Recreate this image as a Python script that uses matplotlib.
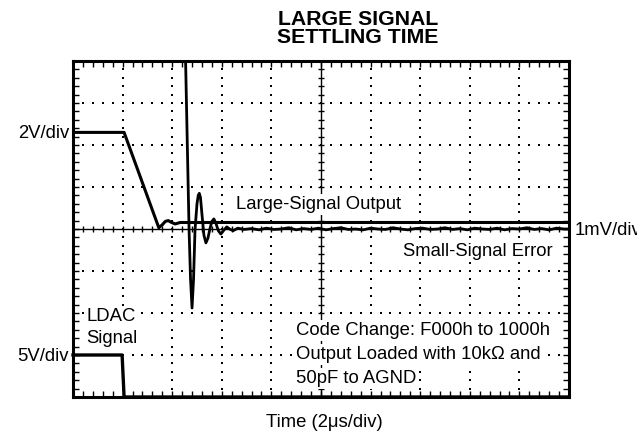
import numpy as np
import matplotlib.pyplot as plt

plt.rcParams['font.family'] = ['Liberation Sans', 'DejaVu Sans']

# Traces in screen divisions (x: 0..10 div, y: 0..8 div, centre line at y=4)
large_x = [0.0, 1.03, 1.73, 1.80, 1.86, 1.92, 1.98, 2.06, 2.16, 10.0]
large_y = [6.30, 6.30, 4.03, 4.10, 4.18, 4.20, 4.16, 4.12, 4.155, 4.155]

small_x = [2.20, 2.27, 2.34, 2.37, 2.40, 2.43, 2.46, 2.50, 2.525, 2.546, 2.57, 2.60,
           2.64, 2.68, 2.72, 2.76, 2.80, 2.84, 2.88, 2.93, 2.98, 3.04, 3.10, 3.17,
           3.23, 3.32, 3.45, 3.60, 3.75, 3.90, 4.05, 4.20, 4.35, 4.50, 4.65, 4.80,
           4.95, 5.10, 5.25, 5.40, 5.55, 5.70, 5.85, 6.00, 6.15, 6.30, 6.45, 6.60,
           6.75, 6.90, 7.05, 7.20, 7.35, 7.50, 7.65, 7.80, 7.95, 8.10, 8.25, 8.40,
           8.55, 8.70, 8.85, 9.00, 9.15, 9.30, 9.45, 9.60, 9.75, 9.90, 10.0]
small_y = [9.50, 8.00, 3.98, 2.80, 2.12, 2.80, 3.98, 4.60, 4.80, 4.85, 4.75, 4.35,
           3.85, 3.67, 3.78, 4.00, 4.18, 4.24, 4.14, 3.96, 3.88, 3.97, 4.05, 3.99,
           3.96, 4.02, 3.99, 4.01, 3.98, 4.02, 3.99, 4.00, 4.03, 3.98, 4.01, 3.99,
           4.02, 3.98, 4.01, 4.03, 3.99, 4.00, 3.98, 4.02, 4.00, 3.99, 4.03, 4.00,
           3.98, 4.01, 4.02, 3.99, 4.00, 4.03, 3.99, 4.01, 3.98, 4.02, 4.00, 3.99,
           4.02, 3.98, 4.01, 4.00, 4.03, 3.99, 4.01, 3.98, 4.02, 4.00, 4.00]

ldac_x = [0.0, 0.99, 1.03, 10.0]
ldac_y = [1.00, 1.00, 0.0, 0.0]

W, H = 637, 436
fig = plt.figure(figsize=(W / 100, H / 100), dpi=100)
ax = fig.add_axes([73 / W, 1 - 397 / H, 496 / W, 336 / H])
ax.set_xlim(0, 10)
ax.set_ylim(0, 8)

# graticule: dotted grid, centre crosshair with minor ticks
minor_x = np.arange(0, 10.01, 0.2)
minor_y = np.arange(0, 8.01, 0.2)
for gx in [1, 2, 3, 4, 6, 7, 8, 9]:
    ax.plot(np.full(len(minor_y), gx), minor_y, ls='none', marker='s', ms=1.5,
            color='k', mew=0)
for gy in [1, 2, 3, 5, 6, 7]:
    ax.plot(minor_x, np.full(len(minor_x), gy), ls='none', marker='s', ms=1.5,
            color='k', mew=0)
ax.axvline(5, color='k', lw=1)
ax.axhline(4, color='k', lw=1)
ax.vlines(minor_x, 4 - 0.07, 4 + 0.07, color='k', lw=1)
ax.hlines(minor_y, 5 - 0.06, 5 + 0.06, color='k', lw=1)

ax.set_xticks(np.arange(0, 11, 1))
ax.set_yticks(np.arange(0, 9, 1))
ax.set_xticks(minor_x, minor=True)
ax.set_yticks(minor_y, minor=True)
ax.tick_params(which='both', direction='in', top=True, right=True,
               labelbottom=False, labelleft=False, length=4.5, width=1)
for s in ax.spines.values():
    s.set_linewidth(2.2)

# traces
ax.plot(large_x, large_y, color='k', lw=2.2, solid_joinstyle='round')
ax.plot(small_x, small_y, color='k', lw=2.0, solid_joinstyle='round')
ax.plot(ldac_x, ldac_y, color='k', lw=2.4, clip_on=False)

box = dict(fc='white', ec='none', pad=1.5)


def put(x, y, s, inside=False, **kw):
    fig.text(x / W, 1 - y / H, s, fontsize=13.3, va='baseline',
             bbox=box if inside else None, **kw)


fig.text(358 / W, 1 - 43.3 / H, 'LARGE SIGNAL\nSETTLING TIME', fontsize=15.3,
         fontweight='bold', ha='center', va='baseline', linespacing=0.94)

put(69, 138, '2V/div', ha='right')
put(69, 361, '5V/div', ha='right')
put(575, 235, '1mV/div', ha='left')
put(236, 209, 'Large-Signal Output', inside=True)
put(553, 256, 'Small-Signal Error', inside=True, ha='right')
put(87, 321, 'LDAC', inside=True)
put(86, 343, 'Signal', inside=True)
put(296, 335, 'Code Change: F000h to 1000h', inside=True)
put(296, 359, 'Output Loaded with 10kΩ and', inside=True)
put(296, 383, '50pF to AGND', inside=True)
put(324, 427, 'Time (2μs/div)', ha='center')

fig.savefig('out.png', dpi=100)
